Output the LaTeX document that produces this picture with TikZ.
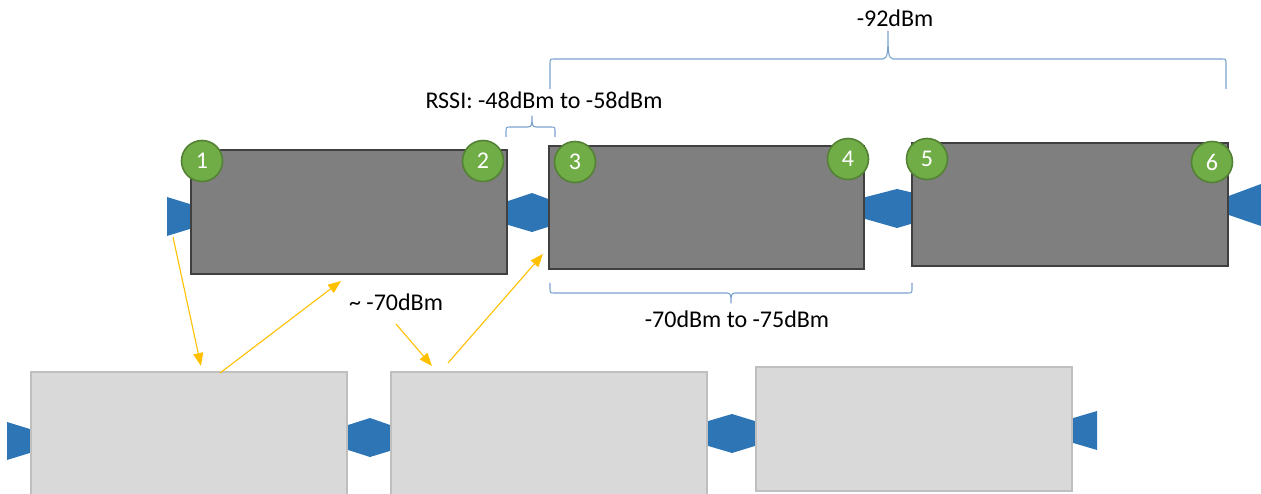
\documentclass[tikz,border=0pt]{standalone}
\usepackage{fontspec}
\setmainfont{Carlito}
\usetikzlibrary{arrows.meta}
\definecolor{boxdark}{HTML}{7F7F7F}
\definecolor{boxdarkline}{HTML}{404040}
\definecolor{boxlight}{HTML}{D9D9D9}
\definecolor{boxlightline}{HTML}{BFBFBF}
\definecolor{portblue}{HTML}{2E75B6}
\definecolor{tagfill}{HTML}{70AD47}
\definecolor{tagline}{HTML}{548235}
\definecolor{linkorange}{HTML}{FFC000}
\definecolor{bracecol}{HTML}{7BA1CE}
\begin{document}
\begin{tikzpicture}[x=1pt,y=-1pt,
  darkbox/.style={draw=boxdarkline, fill=boxdark, line width=2pt, inner sep=0pt},
  lightbox/.style={draw=boxlightline, fill=boxlight, line width=2pt, inner sep=0pt},
  port/.style={fill=portblue},
  tag/.style={circle, draw=tagline, fill=tagfill, line width=1.6pt, minimum size=41pt,
    inner sep=0pt, text=white, font=\fontsize{24}{24}\selectfont},
  link/.style={draw=linkorange, line width=1.1pt, -{Triangle[length=13pt,width=10pt]}},
  bracket/.style={draw=bracecol, line width=1.1pt, line join=round},
  label/.style={font=\fontsize{24}{28}\selectfont, text=black, inner sep=0pt}]
\useasboundingbox (0,0) rectangle (1261,494);
\clip (0,0) rectangle (1261,494);

% port connectors, drawn first so the boxes cover their inner parts
\fill[port] (167,197) -- (193,205) -- (193,228) -- (167,236) -- cycle;
\fill[port] (505,202) -- (532,193) -- (551,200) -- (551,226) -- (532,232) -- (505,224) -- cycle;
\fill[port] (862,198) -- (897,189) -- (914,193) -- (914,223) -- (897,228) -- (862,218) -- cycle;
\fill[port] (1226,197) -- (1261,184) -- (1261,226) -- (1226,214) -- cycle;
\fill[port] (7,422) -- (33,430) -- (33,452) -- (7,460) -- cycle;
\fill[port] (345,426) -- (370,418) -- (393,426) -- (393,450) -- (370,457) -- (345,449) -- cycle;
\fill[port] (705,422) -- (732,414) -- (758,422) -- (758,445) -- (732,453) -- (705,445) -- cycle;
\fill[port] (1070,419) -- (1097,411) -- (1097,450) -- (1070,442) -- cycle;

% upper row
\node[darkbox, minimum width=316pt, minimum height=124pt] (A) at (349,212) {};
\node[darkbox, minimum width=315pt, minimum height=123pt] (B) at (706.5,207.5) {};
\node[darkbox, minimum width=316pt, minimum height=123pt] (C) at (1070,204.5) {};

% lower row
\node[lightbox, minimum width=316pt, minimum height=124pt] (D) at (189,434) {};
\node[lightbox, minimum width=316pt, minimum height=124pt] (E) at (549,434) {};
\node[lightbox, minimum width=316pt, minimum height=124pt] (F) at (914,429) {};

% numbered antenna tags
\node[tag] (t1) at (202,161) {1};
\node[tag] (t2) at (483,161) {2};
\node[tag] (t3) at (575,162) {3};
\node[tag] (t4) at (848,159) {4};
\node[tag] (t5) at (927,159) {5};
\node[tag] (t6) at (1212,162) {6};

% cross-row links
\coordinate (l1s) at (173,237); \coordinate (l1e) at (201,366);
\coordinate (l2s) at (220,373); \coordinate (l2e) at (341,281);
\coordinate (l3s) at (396,324); \coordinate (l3e) at (432,366);
\coordinate (l4s) at (448,363); \coordinate (l4e) at (543,254);
\draw[link] (l1s) -- (l1e);
\draw[link] (l2s) -- (l2e);
\draw[link] (l3s) -- (l3e);
\draw[link] (l4s) -- (l4e);

% brackets
\draw[bracket] (550,89) -- (550,64) .. controls (550,59) .. (555,59) -- (883,59)
  .. controls (888,59) and (888,50) .. (888,31)
  .. controls (888,50) and (888,59) .. (893,59) -- (1221,59)
  .. controls (1226,59) .. (1226,64) -- (1226,89);
\draw[bracket] (506,137) -- (506,132) .. controls (506,127) .. (511,127) -- (528,127)
  .. controls (532,127) and (532,124) .. (532,116)
  .. controls (532,124) and (532,127) .. (536,127) -- (550,127)
  .. controls (555,127) .. (555,132) -- (555,137);
\draw[bracket] (550,283) -- (550,288) .. controls (550,293) .. (555,293) -- (727,293)
  .. controls (731,293) and (731,296) .. (731,303)
  .. controls (731,296) and (731,293) .. (735,293) -- (907,293)
  .. controls (912,293) .. (912,288) -- (912,283);

% signal levels
\node[label] (lvl92) at (895,18) {-92dBm};
\node[label] (rssi) at (544,100) {RSSI: -48dBm to -58dBm};
\node[label] (lvl70) at (396,302) {\textasciitilde\ -70dBm};
\node[label] (lvl7075) at (737,319) {-70dBm to -75dBm};
\end{tikzpicture}
\end{document}
